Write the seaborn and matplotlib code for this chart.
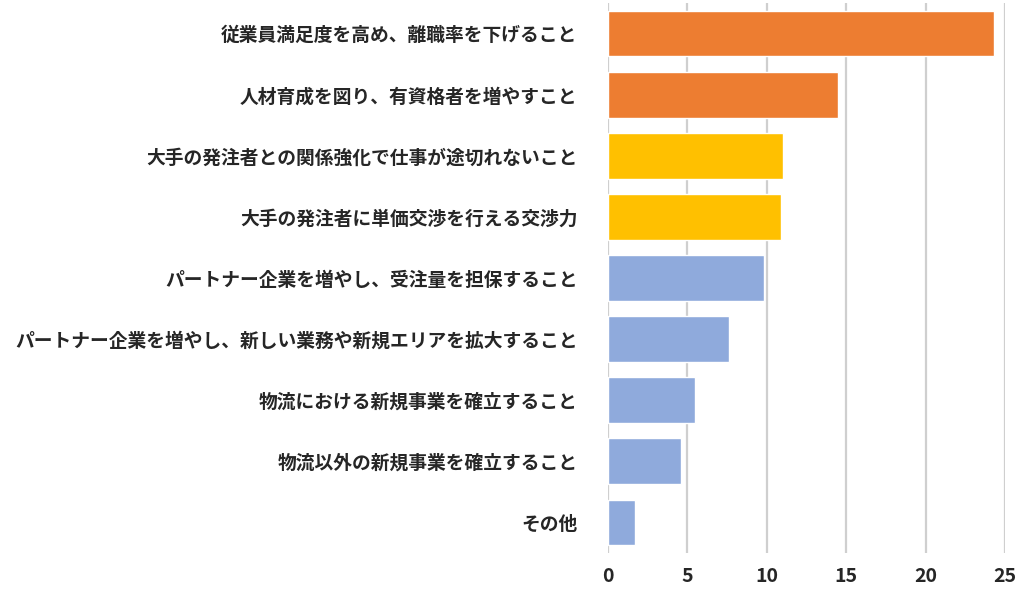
import matplotlib
matplotlib.use("Agg")
import matplotlib.pyplot as plt
import seaborn as sns
import pandas as pd

categories = [
    "従業員満足度を高め、離職率を下げること",
    "人材育成を図り、有資格者を増やすこと",
    "大手の発注者との関係強化で仕事が途切れないこと",
    "大手の発注者に単価交渉を行える交渉力",
    "パートナー企業を増やし、受注量を担保すること",
    "パートナー企業を増やし、新しい業務や新規エリアを拡大すること",
    "物流における新規事業を確立すること",
    "物流以外の新規事業を確立すること",
    "その他",
]
values = [24.3, 14.5, 11.0, 10.9, 9.8, 7.6, 5.5, 4.6, 1.7]
groups = ["a", "a", "b", "b", "c", "c", "c", "c", "c"]
palette = {"a": "#ED7D31", "b": "#FFC000", "c": "#8FAADC"}
xticks = [0, 5, 10, 15, 20, 25]

df = pd.DataFrame({"cat": categories, "val": values, "grp": groups})

sns.set_style("white")
plt.rcParams["font.family"] = ["Noto Sans CJK JP", "DejaVu Sans"]

fig = plt.figure(figsize=(10.28, 6.04), dpi=100)
ax = fig.add_axes([608 / 1028, 1 - 553 / 604, (1005 - 608) / 1028, (553 - 3) / 604])

sns.barplot(data=df, y="cat", x="val", hue="grp", palette=palette, dodge=False,
            saturation=1, width=0.75, orient="h", ax=ax, legend=False, zorder=3)

ax.set_xlim(0, 25)
ax.set_xticks(xticks)
ax.set_xticklabels([str(t) for t in xticks], fontsize=14, fontweight="bold")
ax.grid(axis="x", color="#CFCFCF", linewidth=1.6, zorder=0)
ax.set_axisbelow(True)
ax.tick_params(axis="both", length=0)
ax.tick_params(axis="y", pad=22)
ax.tick_params(axis="x", pad=10)
for lab in ax.get_yticklabels():
    lab.set_fontsize(13.5)
    lab.set_fontweight("bold")
ax.set_xlabel("")
ax.set_ylabel("")
for s in ax.spines.values():
    s.set_visible(False)

fig.savefig("out.png", dpi=100, facecolor="white")
